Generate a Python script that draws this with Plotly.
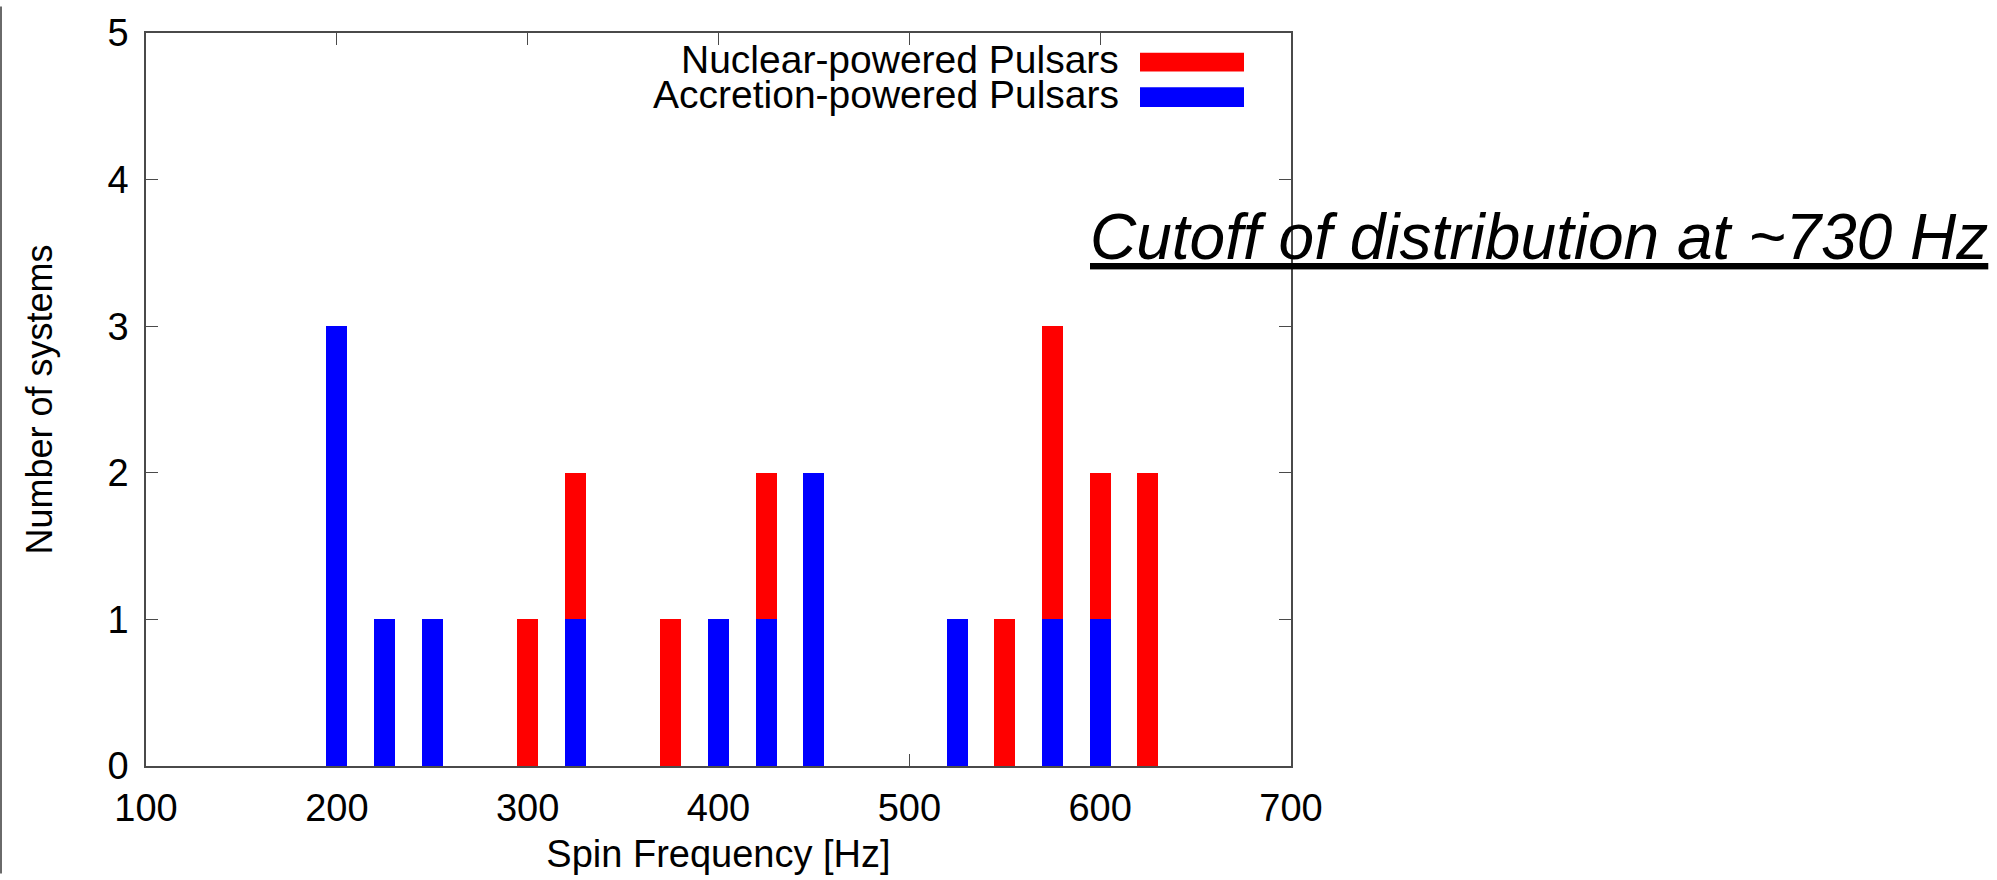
import plotly.graph_objects as go

# Spin-frequency histogram of pulsars (bins of 25 Hz)
spin_freq_hz = [200, 225, 250, 300, 325, 375, 400, 425, 450, 525, 550, 575, 600, 625]
accretion_counts = [3, 1, 1, 0, 1, 0, 1, 1, 2, 1, 0, 1, 1, 0]
nuclear_counts = [0, 0, 0, 1, 1, 1, 0, 1, 0, 0, 1, 2, 1, 2]

series_names = ["Nuclear-powered Pulsars", "Accretion-powered Pulsars"]
series_colors = ["#ff0000", "#0000ff"]

x_ticks = [100, 200, 300, 400, 500, 600, 700]
y_ticks = [0, 1, 2, 3, 4, 5]

note_text = "Cutoff of distribution at ~730 Hz"

FONT = "Liberation Sans, Arial, Helvetica, sans-serif"
AXIS_COLOR = "#4a4a4a"
BAR_WIDTH = 11

# canvas / plot area geometry (pixels)
W, H = 1997, 880
ML, MR, MT, MB = 146, 706, 27, 109
PW, PH = W - ML - MR, H - MT - MB


def px_to_paper_x(px):
    return (px - ML) / PW


def px_to_paper_y(py):
    return (H - MB - py) / PH


fig = go.Figure()

# accretion-powered at the bottom of each stack, nuclear-powered on top
fig.add_trace(go.Bar(
    x=spin_freq_hz, y=accretion_counts, name=series_names[1],
    marker=dict(color=series_colors[1], line=dict(width=0)),
    width=BAR_WIDTH, showlegend=False,
))
fig.add_trace(go.Bar(
    x=spin_freq_hz, y=nuclear_counts, name=series_names[0],
    marker=dict(color=series_colors[0], line=dict(width=0)),
    width=BAR_WIDTH, showlegend=False,
))

axis_common = dict(
    showgrid=False, zeroline=False,
    showline=True, linecolor=AXIS_COLOR, linewidth=1.5, mirror="ticks",
    ticks="inside", ticklen=12, tickwidth=1, tickcolor=AXIS_COLOR,
    tickfont=dict(family=FONT, size=38, color="#000000"),
)

fig.update_layout(
    width=W, height=H,
    margin=dict(l=ML, r=MR, t=MT, b=MB, pad=0),
    paper_bgcolor="#ffffff", plot_bgcolor="#ffffff",
    barmode="stack", bargap=0,
    xaxis=dict(
        range=[100, 700], tickmode="array", tickvals=x_ticks,
        ticktext=[str(v) for v in x_ticks],
        layer="below traces", ticklabelstandoff=8,
        title=dict(text="Spin Frequency [Hz]", standoff=12,
                   font=dict(family=FONT, size=38, color="#000000")),
        **axis_common,
    ),
    yaxis=dict(
        range=[0, 5], tickmode="array", tickvals=y_ticks,
        ticktext=[str(v) for v in y_ticks],
        ticklabelstandoff=8,
        title=dict(text="Number of systems", standoff=44,
                   font=dict(family=FONT, size=36, color="#000000")),
        **axis_common,
    ),
)

# key: right-aligned labels followed by colour swatches
key_rows = [
    (series_names[0], series_colors[0], 54, 47, 66),
    (series_names[1], series_colors[1], 89, 82, 102),
]
for label, color, yc, y_top, y_bot in key_rows:
    fig.add_annotation(
        text=label, xref="paper", yref="paper",
        x=px_to_paper_x(1121), y=px_to_paper_y(yc),
        xanchor="right", yanchor="middle", showarrow=False,
        font=dict(family=FONT, size=39, color="#000000"),
    )
    fig.add_shape(
        type="rect", xref="paper", yref="paper",
        x0=px_to_paper_x(1140), x1=px_to_paper_x(1244),
        y0=px_to_paper_y(y_bot), y1=px_to_paper_y(y_top),
        fillcolor=color, line=dict(width=0),
    )

# side note, italic and underlined
fig.add_annotation(
    text="<i><u>" + note_text + "</u></i>",
    xref="paper", yref="paper",
    x=px_to_paper_x(1539), y=px_to_paper_y(234),
    xanchor="center", yanchor="middle", showarrow=False,
    font=dict(family=FONT, size=64, color="#000000"),
)

# thin frame line along the left edge of the page
fig.add_shape(
    type="line", xref="paper", yref="paper",
    x0=px_to_paper_x(1), x1=px_to_paper_x(1),
    y0=px_to_paper_y(H), y1=px_to_paper_y(0),
    line=dict(color="#6a6a6a", width=2),
)

fig.write_html("out.html")
